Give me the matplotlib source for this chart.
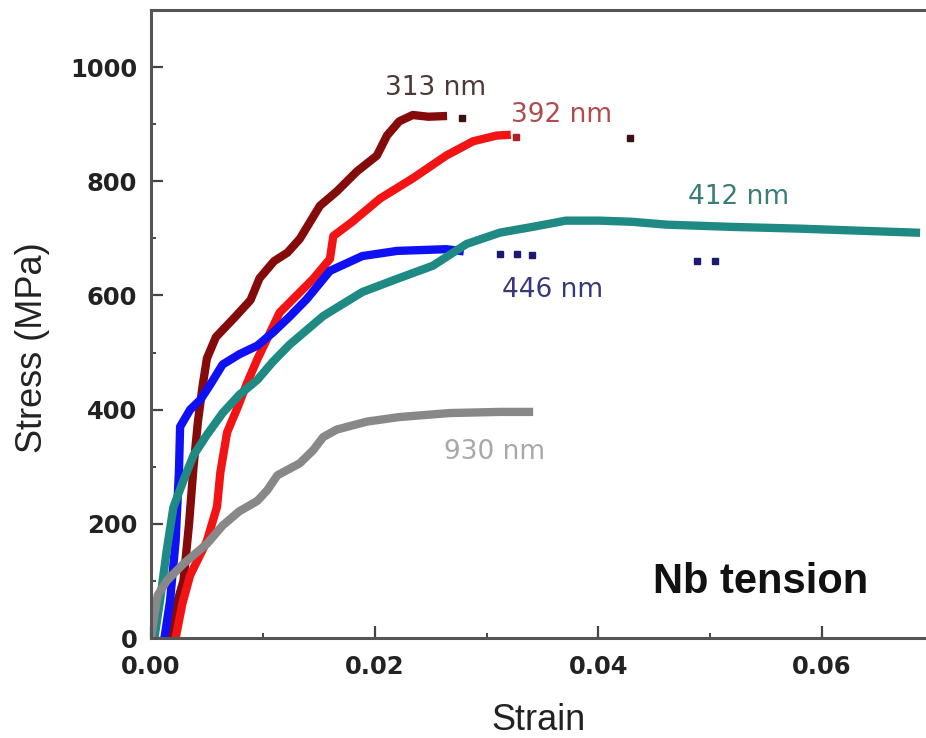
import matplotlib.pyplot as plt
from matplotlib.ticker import MultipleLocator

# stress-strain data (strain, MPa)
strain_313 = [0.0015, 0.0023, 0.0029, 0.0034, 0.0038, 0.0042, 0.0046, 0.0050, 0.0058, 0.0075,
              0.0089, 0.0097, 0.0110, 0.0122, 0.0133, 0.0151, 0.0166, 0.0184, 0.0202, 0.0211,
              0.0222, 0.0234, 0.0248, 0.0261]
stress_313 = [0, 60, 100, 200, 300, 380, 440, 490, 527, 562,
              592, 630, 660, 675, 699, 757, 782, 817, 845, 880,
              905, 916, 913, 914]
dots_313_x = [0.0278, 0.0428]
dots_313_y = [910, 875]

strain_392 = [0.0022, 0.0028, 0.0035, 0.0050, 0.0059, 0.0062, 0.0068, 0.0077, 0.0086, 0.0095,
              0.0115, 0.0145, 0.0160, 0.0163, 0.0180, 0.0205, 0.0234, 0.0264, 0.0288, 0.0309,
              0.0318]
stress_392 = [0, 60, 110, 170, 230, 290, 360, 402, 447, 488,
              570, 629, 664, 704, 729, 770, 805, 845, 870, 880,
              881]
dots_392_x = [0.0326]
dots_392_y = [878]

strain_446 = [0.0012, 0.0017, 0.0022, 0.0025, 0.0026, 0.0035, 0.0044, 0.0053, 0.0064, 0.0079,
              0.0095, 0.0109, 0.0124, 0.0139, 0.0160, 0.0189, 0.0220, 0.0264, 0.0276]
stress_446 = [0, 65, 170, 294, 370, 400, 417, 444, 479, 497,
              512, 535, 563, 593, 643, 669, 678, 681, 678]
dots_446_x = [0.0312, 0.0327, 0.0341, 0.0488, 0.0504]
dots_446_y = [673, 673, 671, 660, 660]

strain_412 = [0.0003, 0.0008, 0.0014, 0.0020, 0.0029, 0.0038, 0.0050, 0.0064, 0.0079, 0.0095,
              0.0109, 0.0124, 0.0154, 0.0189, 0.0220, 0.0252, 0.0282, 0.0312, 0.0341, 0.0371,
              0.0401, 0.0430, 0.0461, 0.0520, 0.0580, 0.0639, 0.0684]
stress_412 = [0, 65, 153, 229, 276, 320, 356, 394, 426, 452,
              484, 514, 564, 606, 629, 652, 690, 710, 720, 731,
              731, 729, 724, 720, 717, 713, 710]

strain_930 = [0.0, 0.0003, 0.0006, 0.0014, 0.0029, 0.0050, 0.0064, 0.0079, 0.0095, 0.0104,
              0.0113, 0.0133, 0.0145, 0.0154, 0.0166, 0.0193, 0.0222, 0.0267, 0.0312, 0.0338]
stress_930 = [0, 40, 75, 100, 130, 165, 197, 222, 240, 259,
              285, 306, 329, 352, 365, 379, 387, 394, 396, 396]

fig = plt.figure(figsize=(9.26, 7.38), dpi=100)
ax = fig.add_axes([0.1631, 0.1355, 0.8369, 0.851])

lw = 6
ax.plot(strain_313, stress_313, color='#850a0a', lw=lw, solid_joinstyle='round')
ax.plot(dots_313_x, dots_313_y, 's', color='#3a1010', ms=4)
ax.plot(strain_392, stress_392, color='#f21414', lw=lw, solid_joinstyle='round')
ax.plot(dots_392_x, dots_392_y, 's', color='#b02020', ms=4)
ax.plot(strain_446, stress_446, color='#1010f5', lw=lw, solid_joinstyle='round')
ax.plot(dots_446_x, dots_446_y, 's', color='#1a1a70', ms=4)
ax.plot(strain_412, stress_412, color='#1f8a84', lw=lw, solid_joinstyle='round')
ax.plot(strain_930, stress_930, color='#888888', lw=lw, solid_joinstyle='round')

# curve labels
lab = dict(fontsize=19, ha='center', va='center', family='DejaVu Sans')
ax.text(0.0254, 963, '313 nm', color='#4d3838', **lab)
ax.text(0.0367, 916, '392 nm', color='#b04c4c', **lab)
ax.text(0.0525, 772, '412 nm', color='#3a7c76', **lab)
ax.text(0.0359, 609, '446 nm', color='#38387a', **lab)
ax.text(0.0307, 326, '930 nm', color='#a8a8a8', **lab)
ax.text(0.0545, 98, 'Nb tension', fontsize=30, fontweight='bold', ha='center', va='center',
        family='Liberation Sans', color='#111111')

ax.set_xlim(0, 0.0693)
ax.set_ylim(0, 1100)
ax.xaxis.set_major_locator(MultipleLocator(0.02))
ax.xaxis.set_minor_locator(MultipleLocator(0.01))
ax.yaxis.set_major_locator(MultipleLocator(200))
ax.yaxis.set_minor_locator(MultipleLocator(100))
ax.xaxis.set_major_formatter(plt.FuncFormatter(lambda v, p: f'{v:.2f}'))

ax.tick_params(which='both', direction='in', top=False, right=False, color='#444444')
ax.tick_params(which='major', length=8.5, width=1.6, labelsize=17.5, pad=10)
ax.tick_params(which='minor', length=3.5, width=1.4)
ax.tick_params(axis='x', which='major', pad=12)
for t in ax.get_xticklabels() + ax.get_yticklabels():
    t.set_fontweight('bold')
    t.set_color('#222222')

for s in ['left', 'top', 'bottom']:
    ax.spines[s].set_color('#555555')
    ax.spines[s].set_linewidth(2.2)
ax.spines['right'].set_visible(False)

ax.set_xlabel('Strain', fontsize=26, family='Liberation Sans', color='#222222', va='center')
ax.set_ylabel('Stress (MPa)', fontsize=26, family='Liberation Sans', color='#222222', va='center')
ax.xaxis.set_label_coords(0.5006, -0.1306)
ax.yaxis.set_label_coords(-0.1535, 0.463)

fig.savefig('out.png', dpi=100)
